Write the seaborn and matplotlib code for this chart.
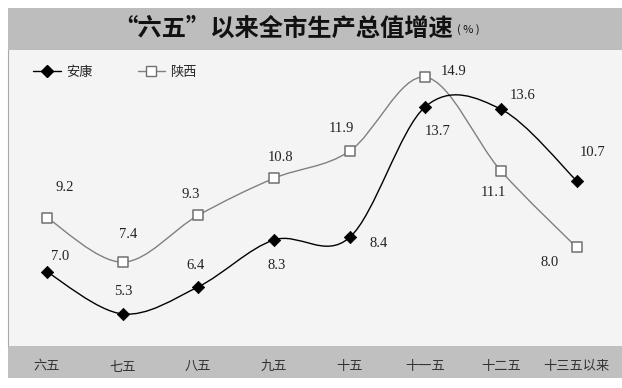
import numpy as np
import matplotlib.pyplot as plt
import seaborn as sns
from matplotlib.path import Path
from matplotlib.patches import PathPatch, Rectangle
from matplotlib.lines import Line2D

periods = ['六五', '七五', '八五', '九五', '十五', '十一五', '十二五', '十三五以来']
ankang = [7.0, 5.3, 6.4, 8.3, 8.4, 13.7, 13.6, 10.7]
shaanxi = [9.2, 7.4, 9.3, 10.8, 11.9, 14.9, 11.1, 8.0]

# label offsets from the marker, in pixels (dx, dy upward)
ankang_off = [(13, 16), (1, 22), (-3, 21), (3, -26), (29, -6), (12, -25), (22, 14), (16, 28)]
shaanxi_off = [(18, 30), (5, 28), (-8, 21), (7, 21), (-8, 23), (28, 6), (-8, -22), (-27, -15)]


def smooth_path(xs, ys):
    # excel-like smoothed line: cubic bezier through every point
    p = np.column_stack([xs, ys]).astype(float)
    ext = np.vstack([p[0], p, p[-1]])
    verts = [p[0]]
    codes = [Path.MOVETO]
    for i in range(len(p) - 1):
        c1 = ext[i + 1] + (ext[i + 2] - ext[i]) / 6
        c2 = ext[i + 2] - (ext[i + 3] - ext[i + 1]) / 6
        verts += [c1, c2, ext[i + 2]]
        codes += [Path.CURVE4] * 3
    return Path(verts, codes)


sns.set_style('white')
plt.rcParams['font.family'] = ['Noto Sans CJK SC', 'DejaVu Sans']

W, H = 622, 388
fig = plt.figure(figsize=(W / 100, H / 100), dpi=100)
fig.patch.set_facecolor('white')

# title band and bottom band
fig.add_artist(Rectangle((8 / W, (H - 50) / H), 1 - 8 / W, 42 / H, transform=fig.transFigure,
                         facecolor='#bdbdbd', edgecolor='none', zorder=0))
fig.add_artist(Rectangle((8 / W, (H - 378) / H), 1 - 8 / W, 32 / H, transform=fig.transFigure,
                         facecolor='#c0c0c0', edgecolor='none', zorder=0))

ax = fig.add_axes([8 / W, (H - 346) / H, 1 - 8 / W, 296 / H])
ax.set_facecolor('#f4f4f4')

x = np.arange(len(periods))

ax.add_patch(PathPatch(smooth_path(x, shaanxi), facecolor='none', edgecolor='#808080', lw=1.0, zorder=2))
ax.add_patch(PathPatch(smooth_path(x, ankang), facecolor='none', edgecolor='black', lw=1.0, zorder=2))

sns.scatterplot(x=x, y=shaanxi, marker='s', s=42, color='white', edgecolor='#707070',
                linewidth=1.1, zorder=4, ax=ax, legend=False)
sns.scatterplot(x=x, y=ankang, marker='D', s=40, color='black', edgecolor='black',
                linewidth=0.5, zorder=4, ax=ax, legend=False)

for xi, v, (dx, dy) in zip(x, ankang, ankang_off):
    ax.annotate(f'{v:.1f}', (xi, v), xytext=(dx * 0.72, dy * 0.72), textcoords='offset points',
                ha='center', va='center', fontsize=10.5, family='Liberation Serif', color='#222222')
for xi, v, (dx, dy) in zip(x, shaanxi, shaanxi_off):
    ax.annotate(f'{v:.1f}', (xi, v), xytext=(dx * 0.72, dy * 0.72), textcoords='offset points',
                ha='center', va='center', fontsize=10.5, family='Liberation Serif', color='#222222')

ax.set_xlim(-0.515, 7.6)
ax.set_ylim(4.0, 16.0)
ax.set_yticks([])
ax.set_xticks(x)
ax.set_xticklabels(periods, fontsize=9.5, color='#333333')
ax.set_xticks(x[:-1] + 0.5, minor=True)
ax.tick_params(axis='x', which='major', length=0, pad=10)
ax.tick_params(axis='x', which='minor', direction='in', length=3, color='#999999', width=0.8)
for s in ['top', 'right', 'bottom']:
    ax.spines[s].set_visible(False)
ax.spines['left'].set_color('#aaaaaa')
ax.spines['left'].set_linewidth(0.8)

handles = [
    Line2D([], [], color='black', lw=1.0, marker='D', markersize=6, markerfacecolor='black'),
    Line2D([], [], color='#808080', lw=1.0, marker='s', markersize=6.5,
           markerfacecolor='white', markeredgecolor='#707070'),
]
ax.legend(handles, ['安康', '陕西'], loc='center left', bbox_to_anchor=(0.041, 0.925),
          frameon=False, ncol=2, fontsize=9.5, handlelength=2.1, handletextpad=0.4,
          columnspacing=3.4, borderaxespad=0, borderpad=0)

fig.text(453 / W, (H - 29) / H, '“六五”以来全市生产总值增速', ha='right', va='center',
         fontsize=17.5, fontweight='bold', color='#111111')
fig.text(457 / W, (H - 30) / H, '( % )', ha='left', va='center', fontsize=8, color='#111111')

fig.savefig('out.png', dpi=100)
